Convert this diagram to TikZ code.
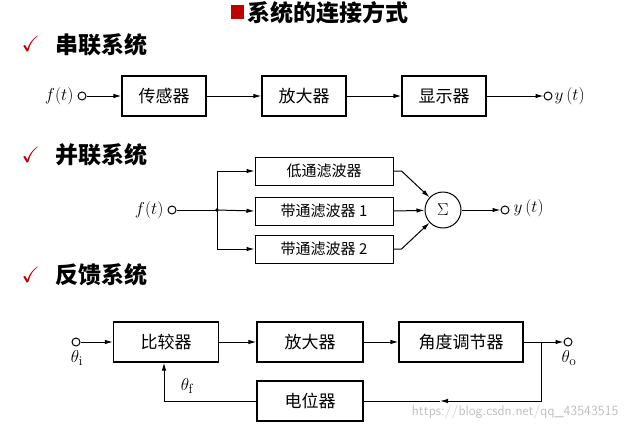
\documentclass[tikz,border=0pt]{standalone}
\usepackage{amssymb}
\usepackage{fontspec}
\newfontfamily\cjk{Noto Sans CJK SC}
\usetikzlibrary{arrows.meta}
\definecolor{myred}{RGB}{192,0,0}
\begin{document}
\begin{tikzpicture}[x=1pt,y=-1pt,
  blk/.style={draw,line width=1.2pt,minimum height=40pt,inner sep=0pt,font=\cjk\fontsize{17}{17}\selectfont},
  pblk/.style={draw,line width=1pt,minimum height=28pt,minimum width=138pt,inner sep=0pt,font=\cjk\fontsize{15}{15}\selectfont},
  term/.style={circle,draw,line width=1pt,minimum size=8pt,inner sep=0pt},
  arr/.style={line width=1pt,-{Latex[length=8pt,width=4.5pt]}},
  ln/.style={line width=1pt},
  head/.style={font=\cjk\bfseries\fontsize{23}{23}\selectfont,anchor=west},
  chk/.style={font=\fontsize{22}{22}\selectfont,text=myred,anchor=west},
  lab/.style={font=\fontsize{19}{19}\selectfont}]
\useasboundingbox (0,0) rectangle (626,431);
% title
\fill[myred] (231,5) rectangle (244,19);
\node[head] (title) at (244,13) {系统的连接方式};
% series
\node[chk] (c1) at (18,44) {$\checkmark$};
\node[head] (h1) at (52,45) {串联系统};
\node[lab,anchor=east] (f1) at (77,96) {$f(t)$};
\node[term] (i1) at (82,96) {};
\node[blk,minimum width=84pt] (s1) at (164,96) {传感器};
\node[blk,minimum width=84pt] (s2) at (304,96) {放大器};
\node[blk,minimum width=84pt] (s3) at (444,96) {显示器};
\node[term] (o1) at (548,96) {};
\node[lab,anchor=west] (y1) at (551,96) {$y\,(t)$};
\draw[arr] (i1) -- (s1);
\draw[arr] (s1) -- (s2);
\draw[arr] (s2) -- (s3);
\draw[arr] (s3) -- (o1);
% parallel
\node[chk] (c2) at (18,155) {$\checkmark$};
\node[head] (h2) at (52,155) {并联系统};
\node[lab,anchor=east] (f2) at (167,210) {$f(t)$};
\node[term] (i2) at (172,210) {};
\coordinate (j) at (217,210);
\node[pblk] (p1) at (324,171) {低通滤波器};
\node[pblk] (p2) at (324,211) {带通滤波器 1};
\node[pblk] (p3) at (324,249) {带通滤波器 2};
\node[circle,draw,line width=1pt,minimum size=36pt,inner sep=0pt,font=\fontsize{17}{17}\selectfont] (sig) at (443,210) {$\Sigma$};
\node[term] (o2) at (505,210) {};
\node[lab,anchor=west] (y2) at (510,208) {$y\,(t)$};
\fill (j) circle (1.8pt);
\draw[ln] (i2) -- (j);
\draw[ln] (217,171) -- (217,249);
\draw[arr] (217,171) -- (p1.west);
\draw[arr] (j) -- (p2.west);
\draw[arr] (217,249) -- (p3.west);
\draw[arr] (p1.east) -- ++(8,0) -- (sig);
\draw[arr] (p2.east) -- (sig);
\draw[arr] (p3.east) -- ++(8,0) -- (sig);
\draw[arr] (sig) -- (o2);
% feedback
\node[chk] (c3) at (18,275) {$\checkmark$};
\node[head] (h3) at (52,275) {反馈系统};
\node[term] (i3) at (76,342) {};
\node[lab] (ti) at (77,358) {$\theta_{\mathrm{i}}$};
\node[blk,minimum width=105pt] (b1) at (166,342) {比较器};
\node[blk,minimum width=106pt] (b2) at (310,342) {放大器};
\node[blk,minimum width=124pt] (b3) at (461,342) {角度调节器};
\node[blk,minimum width=106pt] (b4) at (310,401) {电位器};
\node[term] (o3) at (568,342) {};
\node[lab] (to) at (569,358) {$\theta_{\mathrm{o}}$};
\node[lab] (tf) at (187,386) {$\theta_{\mathrm{f}}$};
\coordinate (br) at (541,342);
\coordinate (fb) at (164,401);
\draw[arr] (i3) -- (b1);
\draw[arr] (b1) -- (b2);
\draw[arr] (b2) -- (b3);
\draw[arr] (b3) -- (o3);
\draw[arr] (br) |- (440,401);
\draw[ln] (440,401) -- (b4.east);
\draw[arr] (b4.west) -- (fb) -- (b1.south -| fb);
\node[font=\fontsize{14}{14}\selectfont\sffamily,text=black!25,anchor=east] (wm) at (622,412) {https://blog.csdn.net/qq\_43543515};
\end{tikzpicture}
\end{document}
